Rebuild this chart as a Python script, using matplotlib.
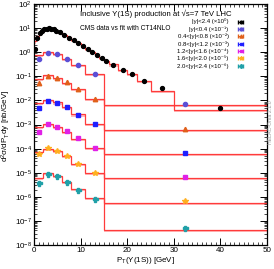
import numpy as np
import matplotlib
matplotlib.use('Agg')
from matplotlib import pyplot as plt
from matplotlib.ticker import MultipleLocator, LogLocator, NullFormatter

plt.rcParams['font.family'] = ['Liberation Sans', 'DejaVu Sans']
plt.rcParams['mathtext.fontset'] = 'custom'
plt.rcParams['mathtext.rm'] = 'Liberation Sans'
plt.rcParams['mathtext.it'] = 'Liberation Sans:italic'
plt.rcParams['mathtext.bf'] = 'Liberation Sans:bold'

# |y|<2.4, fine pT bins
edges_all = [0, 0.5, 1, 1.5, 2, 2.5, 3, 3.5, 4, 4.5, 5, 6, 7, 8, 9, 10, 11, 12,
             13, 14, 15, 16, 18, 20, 22, 25, 30, 50]
data_all = [1.3, 4.0, 6.5, 7.9, 8.9, 9.5, 9.8, 9.4, 8.8, 7.9, 6.8, 5.3, 4.0, 3.1,
            2.35, 1.75, 1.35, 1.05, 0.80, 0.59, 0.43, 0.30, 0.19, 0.12, 0.063,
            0.032, 0.0047]
fit_all = [2.8, 4.6, 6.2, 7.6, 8.6, 9.2, 9.4, 9.2, 8.7, 8.0, 6.9, 5.4, 4.1, 3.1,
           2.35, 1.75, 1.33, 1.02, 0.78, 0.58, 0.43, 0.31, 0.19, 0.12, 0.064,
           0.025, 0.0040]

# rapidity slices, coarse pT bins
edges_y = [0, 2, 4, 6, 8, 11, 15, 50]
data_y04 = [5.2, 9.5, 8.4, 5.2, 3.0, 1.2, 0.071]
fit_y04 = [8.0, 10.3, 8.4, 5.3, 3.0, 1.2, 0.066]
data_y08 = [5.4, 10.6, 8.7, 5.6, 2.9, 1.1, 0.063]
fit_y08 = [7.8, 11.0, 8.7, 5.5, 2.9, 1.1, 0.060]
data_y12 = [4.7, 9.7, 8.0, 5.1, 2.5, 1.1, 0.068]
fit_y12 = [7.5, 10.5, 8.2, 5.2, 2.6, 1.1, 0.060]
data_y16 = [5.0, 10.2, 8.1, 5.2, 2.7, 1.1, 0.068]
fit_y16 = [7.6, 10.5, 8.2, 5.1, 2.6, 1.05, 0.058]
data_y20 = [5.7, 10.2, 7.9, 4.9, 2.4, 0.94, 0.068]
fit_y20 = [7.4, 10.0, 7.8, 4.8, 2.4, 0.95, 0.058]
data_y24 = [3.6, 8.5, 7.2, 4.0, 2.0, 0.83, 0.052]
fit_y24 = [5.9, 9.5, 7.2, 4.3, 2.2, 0.87, 0.042]

labels = ['|y|<2.4 (×10⁰)', '|y|<0.4 (×10⁻¹)', '0.4<|y|<0.8 (×10⁻²)',
          '0.8<|y|<1.2 (×10⁻³)', '1.2<|y|<1.6 (×10⁻⁴)',
          '1.6<|y|<2.0 (×10⁻⁵)', '2.0<|y|<2.4 (×10⁻⁶)']
scales = [1, 1e-1, 1e-2, 1e-3, 1e-4, 1e-5, 1e-6]

series = [(edges_all, data_all, fit_all),
          (edges_y, data_y04, fit_y04),
          (edges_y, data_y08, fit_y08),
          (edges_y, data_y12, fit_y12),
          (edges_y, data_y16, fit_y16),
          (edges_y, data_y20, fit_y20),
          (edges_y, data_y24, fit_y24)]
colors = ['black', '#5b4fd6', '#e0601a', '#1f1fff', '#e020e6', '#ffb020', '#20a0a8']
markers = ['o', 'o', '^', 's', 's', '*', 'P']
msizes = [2.8, 3.0, 3.2, 3.0, 3.0, 4.0, 3.6]

fig = plt.figure(figsize=(2.74, 2.69), dpi=100)
ax = fig.add_axes([34 / 274, 1 - 245 / 269, 233 / 274, 241 / 269])

for (edges, data, fit), sc, col, mk, ms, lab in zip(series, scales, colors, markers, msizes, labels):
    e = np.array(edges, dtype=float)
    d = np.array(data) * sc
    f = np.array(fit) * sc
    ax.stairs(f, e, baseline=f * 0.82, fill=True, color='#ffbcbc', lw=0, zorder=1)
    ax.stairs(f, e, baseline=None, color='#ff3b3b', lw=0.9, zorder=2)
    centers = 0.5 * (e[1:] + e[:-1])
    ax.plot(centers, d, ls='none', marker=mk, color=col, ms=ms, mec=col, zorder=3)
    # legend proxy drawn as a horizontal error bar
    ax.errorbar([np.nan], [np.nan], xerr=[1], fmt=mk, color=col, ms=ms * 0.7,
                elinewidth=0.7, capsize=1.3, label=lab)

ax.set_xlim(0, 50)
ax.set_yscale('log')
ax.set_ylim(1e-8, 1e2)
ax.xaxis.set_major_locator(MultipleLocator(10))
ax.xaxis.set_minor_locator(MultipleLocator(1))
ax.yaxis.set_major_locator(LogLocator(base=10, numticks=20))
ax.yaxis.set_minor_locator(LogLocator(base=10, subs=np.arange(2, 10), numticks=200))
ax.yaxis.set_minor_formatter(NullFormatter())
ax.tick_params(which='both', direction='in', top=True, right=True, labelsize=5.8, pad=1.5)
ax.tick_params(which='major', length=5, width=0.7)
ax.tick_params(which='minor', length=2.5, width=0.5)
for s in ax.spines.values():
    s.set_linewidth(0.9)

fig.text(145 / 274, 1 - 260.5 / 269, 'P$_{\\mathrm{T}}$(Υ(1S)) [GeV]', fontsize=5.8,
         ha='center', va='center')
fig.text(6 / 274, 1 - 126 / 269, 'd$^{2}$σ/dP$_{\\mathrm{T}}$dy [nb/GeV]', fontsize=5.8,
         ha='center', va='center', rotation=90)

ax.text(0.197, 0.958, 'Inclusive Υ(1S) production at √s=7 TeV LHC',
        transform=ax.transAxes, fontsize=5.6, va='center', ha='left')
ax.text(0.197, 0.90, 'CMS data vs fit with CT14NLO', transform=ax.transAxes,
        fontsize=4.8, va='center', ha='left')

ax.legend(loc='upper right', bbox_to_anchor=(0.935, 0.955), frameon=False,
          fontsize=4.3, markerfirst=False, handlelength=2.6, labelspacing=0.3,
          handletextpad=0.7, borderpad=0.1, handleheight=0.5)

fig.text(271 / 274, 1 - 122 / 269, 'HELAC-Onia 2.1.0', rotation=90, fontsize=3.8,
         color='#999999', ha='center', va='center')

fig.savefig('out.png', dpi=100)
